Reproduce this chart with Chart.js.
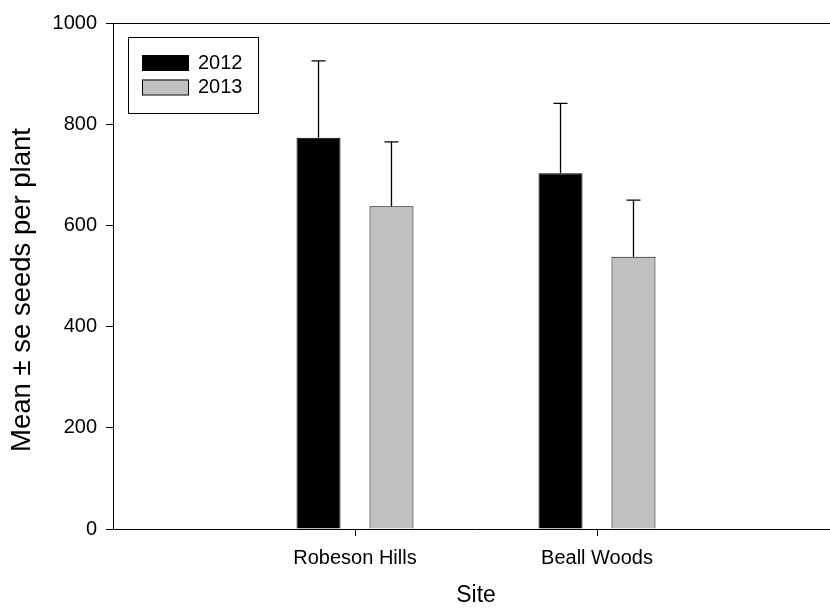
<!DOCTYPE html>
<html>
<head>
<meta charset="utf-8">
<script src="https://cdn.jsdelivr.net/npm/chart.js@4"></script>
<style>
  html, body { margin: 0; padding: 0; background: #fff; overflow: hidden; }
  #wrap { width: 830px; height: 609px; overflow: hidden; }
  #wrap div { width: 850px; height: 609px; }
</style>
</head>
<body>
<div id="wrap"><div><canvas id="seeds-chart"></canvas></div></div>
<script>
// seed output per site, two years, mean + upper se whisker
const sites = ['Robeson Hills', 'Beall Woods'];
const years = ['2012', '2013'];
const mean2012 = [773, 703];
const mean2013 = [638, 538];
const se2012 = [152, 138];
const se2013 = [127, 112];
const yTicks = [0, 200, 400, 600, 800, 1000];
const yTitle = 'Mean ± se seeds per plant';

// empty slots at both ends so the sites sit at 1/3 and 2/3 of the axis
const labels = [''].concat(sites, ['']);
const pad = arr => [null].concat(arr, [null]);

const FONT = 'Liberation Sans, Arial, sans-serif';

// top frame line + y title (sits a bit below the plot centre in the original)
const frameTop = {
  id: 'frameTop',
  afterDraw(chart) {
    const { ctx, chartArea } = chart;
    ctx.save();
    ctx.strokeStyle = '#000';
    ctx.lineWidth = 1;
    ctx.beginPath();
    ctx.moveTo(chartArea.left, chartArea.top + 0.5);
    ctx.lineTo(chartArea.right, chartArea.top + 0.5);
    ctx.stroke();

    ctx.translate(30, (chartArea.top + chartArea.bottom) / 2 + 14);
    ctx.rotate(-Math.PI / 2);
    ctx.fillStyle = '#000';
    ctx.font = '27.5px ' + FONT;
    ctx.textAlign = 'center';
    ctx.textBaseline = 'alphabetic';
    ctx.fillText(yTitle, 0, 0);
    ctx.restore();
  }
};

// upward whiskers with caps
const errorBars = {
  id: 'errorBars',
  afterDatasetsDraw(chart) {
    const { ctx } = chart;
    const y = chart.scales.y;
    ctx.save();
    ctx.strokeStyle = '#000';
    ctx.lineWidth = 1.3;
    chart.data.datasets.forEach((ds, di) => {
      const meta = chart.getDatasetMeta(di);
      meta.data.forEach((bar, i) => {
        const v = ds.data[i];
        const e = ds.errors[i];
        if (v == null || e == null) return;
        const yTop = y.getPixelForValue(v + e);
        const yBar = y.getPixelForValue(v);
        ctx.beginPath();
        ctx.moveTo(bar.x, yBar);
        ctx.lineTo(bar.x, yTop);
        ctx.moveTo(bar.x - 7, yTop);
        ctx.lineTo(bar.x + 7, yTop);
        ctx.stroke();
      });
    });
    ctx.restore();
  }
};

// boxed legend in the upper left of the plot
const boxLegend = {
  id: 'boxLegend',
  afterDraw(chart) {
    const { ctx, chartArea } = chart;
    const x0 = chartArea.left + 15, y0 = chartArea.top + 14;
    ctx.save();
    ctx.lineWidth = 1;
    ctx.strokeStyle = '#000';
    ctx.fillStyle = '#fff';
    ctx.fillRect(x0, y0, 130, 76);
    ctx.strokeRect(x0 + 0.5, y0 + 0.5, 130, 76);
    ctx.font = '20px ' + FONT;
    ctx.textBaseline = 'middle';
    chart.data.datasets.forEach((ds, i) => {
      const sy = y0 + 18 + i * 24.5;
      ctx.fillStyle = ds.backgroundColor;
      ctx.fillRect(x0 + 14, sy, 46, 15);
      ctx.strokeRect(x0 + 14.5, sy + 0.5, 46, 15);
      ctx.fillStyle = '#000';
      ctx.fillText(ds.label, x0 + 70, sy + 8);
    });
    ctx.restore();
  }
};

const hideEnds = ctx => (ctx.tick && ctx.tick.label === '') ? 'rgba(0,0,0,0)' : '#000';

new Chart(document.getElementById('seeds-chart'), {
  type: 'bar',
  data: {
    labels: labels,
    datasets: [
      {
        label: years[0],
        data: pad(mean2012),
        errors: pad(se2012),
        backgroundColor: '#000000',
        borderColor: '#000000',
        borderWidth: 1,
        categoryPercentage: 0.603,
        barPercentage: 0.603
      },
      {
        label: years[1],
        data: pad(mean2013),
        errors: pad(se2013),
        backgroundColor: '#c0c0c0',
        borderColor: '#000000',
        borderWidth: 1,
        categoryPercentage: 0.603,
        barPercentage: 0.603
      }
    ]
  },
  options: {
    responsive: true,
    maintainAspectRatio: false,
    animation: false,
    devicePixelRatio: 1,
    layout: { padding: { top: 23, right: 11, left: 0, bottom: 0 } },
    plugins: {
      legend: { display: false },
      tooltip: { enabled: false }
    },
    scales: {
      x: {
        offset: false,
        grid: {
          offset: false,
          drawOnChartArea: false,
          tickLength: 7,
          color: hideEnds,
          tickColor: hideEnds
        },
        border: { display: true, color: '#000', width: 1 },
        ticks: {
          color: '#000',
          font: { family: FONT, size: 20 },
          padding: 10,
          maxRotation: 0,
          autoSkip: false
        },
        title: {
          display: true,
          text: 'Site',
          color: '#000',
          font: { family: FONT, size: 23 },
          padding: { top: -2, bottom: 0 }
        },
        afterFit(scale) { scale.height = 80; }
      },
      y: {
        min: 0,
        max: 1000,
        afterBuildTicks(scale) { scale.ticks = yTicks.map(v => ({ value: v })); },
        grid: {
          drawOnChartArea: false,
          tickLength: 7,
          color: '#000',
          tickColor: '#000'
        },
        border: { display: true, color: '#000', width: 1 },
        ticks: {
          color: '#000',
          font: { family: FONT, size: 20 },
          padding: 9,
          callback: v => String(v)
        },
        afterFit(scale) { scale.width = 113; }
      }
    }
  },
  plugins: [frameTop, errorBars, boxLegend]
});
</script>
</body>
</html>
